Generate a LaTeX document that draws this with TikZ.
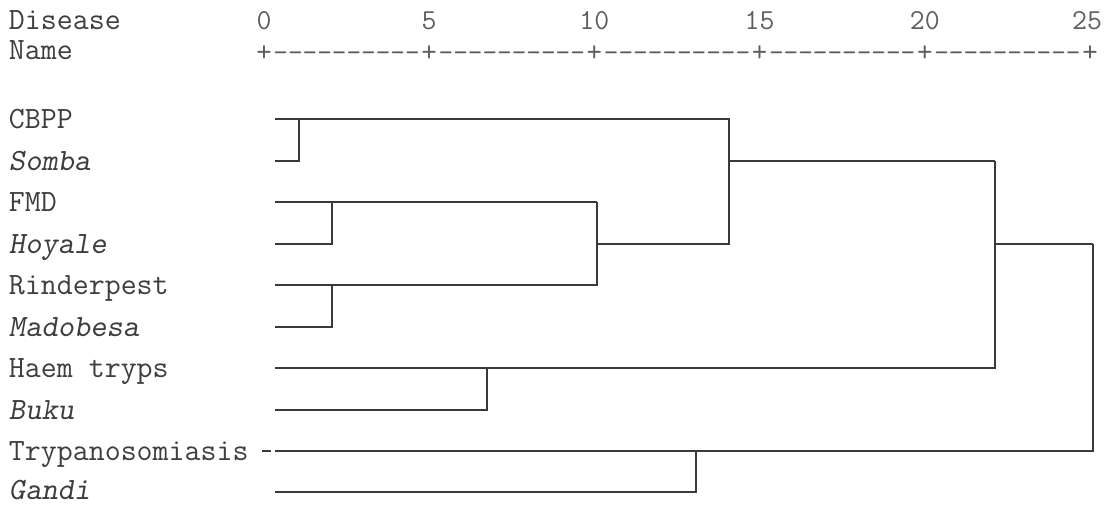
\documentclass[tikz,border=0pt]{standalone}
\usepackage{fontspec}
\definecolor{txtgray}{HTML}{3E3E3E}
\definecolor{axgray}{HTML}{5E5E5E}
\definecolor{linegray}{HTML}{3A3A3A}
\newcommand{\tendash}{-{}-{}-{}-{}-{}-{}-{}-{}-{}-}
\begin{document}
\begin{tikzpicture}[x=1pt,y=-1pt,
  every node/.style={inner sep=0pt,outer sep=0pt},
  lbl/.style={anchor=base west,font=\ttfamily\fontsize{31}{34}\selectfont,text=txtgray},
  ilbl/.style={lbl,font=\ttfamily\fontsize{31}{34}\selectfont\slshape},
  num/.style={anchor=base,font=\ttfamily\fontsize{29}{32}\selectfont,text=axgray},
  plus/.style={anchor=base,font=\ttfamily\fontsize{30}{32}\selectfont,text=axgray},
  dashes/.style={anchor=base,font=\ttfamily\fontsize{28.4}{32}\selectfont,text=axgray},
  link/.style={draw=linegray,line width=1.6pt,line join=miter}]
\useasboundingbox[fill=white] (0,0) rectangle (1110,504);

% header
\node[lbl] (hdis) at (9,29) {Disease};
\node[lbl] (hname) at (9,59) {Name};
\node[num] (n0)  at (264,29)    {0};
\node[num] (n5)  at (429.2,29)  {5};
\node[num] (n10) at (594.4,29)  {10};
\node[num] (n15) at (759.6,29)  {15};
\node[num] (n20) at (924.8,29)  {20};
\node[num] (n25) at (1087,29)   {25};
\node[plus] (p0)  at (264,61)   {+};
\node[plus] (p5)  at (429.2,61) {+};
\node[plus] (p10) at (594.4,61) {+};
\node[plus] (p15) at (759.6,61) {+};
\node[plus] (p20) at (924.8,61) {+};
\node[plus] (p25) at (1090,61)  {+};
\node[dashes] (d1) at (346.6,61) {\tendash};
\node[dashes] (d2) at (511.8,61) {\tendash};
\node[dashes] (d3) at (677,61)   {\tendash};
\node[dashes] (d4) at (842.2,61) {\tendash};
\node[dashes] (d5) at (1007.4,61) {\tendash};

% leaf labels
\node[lbl]  (lCBPP)   at (9,128) {CBPP};
\node[ilbl] (lSomba)  at (9,170) {Somba};
\node[lbl]  (lFMD)    at (9,211) {FMD};
\node[ilbl] (lHoyale) at (9,253) {Hoyale};
\node[lbl]  (lRind)   at (9,294) {Rinderpest};
\node[ilbl] (lMado)   at (9,336) {Madobesa};
\node[lbl]  (lHaem)   at (9,377) {Haem tryps};
\node[ilbl] (lBuku)   at (9,419) {Buku};
\node[lbl]  (lTryp)   at (9,460) {Trypanosomiasis};
\node[ilbl] (lGandi)  at (9,499) {Gandi};

% leaf line starts
\coordinate (sCBPP)   at (275,119);
\coordinate (sSomba)  at (275,161);
\coordinate (sFMD)    at (275,202);
\coordinate (sHoyale) at (275,244);
\coordinate (sRind)   at (275,285);
\coordinate (sMado)   at (275,327);
\coordinate (sHaem)   at (275,368);
\coordinate (sBuku)   at (275,410);
\coordinate (sTryp)   at (275,451);
\coordinate (sGandi)  at (275,492);
\coordinate (dA) at (262,451);
\coordinate (dB) at (271,451);

% joins
\coordinate (jA)    at (299,119);
\coordinate (jB)    at (332,202);
\coordinate (jC)    at (332,285);
\coordinate (tBC)   at (597,202);
\coordinate (mBC)   at (597,244);
\coordinate (tABC)  at (729,119);
\coordinate (bABC)  at (729,244);
\coordinate (mABC)  at (729,161);
\coordinate (jD)    at (487,368);
\coordinate (tABCD) at (995,161);
\coordinate (mABCD) at (995,244);
\coordinate (jE)    at (696,451);
\coordinate (tRoot) at (1093,244);

% dendrogram
\draw[link] (sSomba) -| (jA);
\draw[link] (sHoyale) -| (jB);
\draw[link] (sMado) -| (jC);
\draw[link] (sFMD) -- (tBC);
\draw[link] (sRind) -| (tBC);
\draw[link] (mBC) -- (bABC) -- (tABC) -- (sCBPP);
\draw[link] (mABC) -- (tABCD);
\draw[link] (sHaem) -| (tABCD);
\draw[link] (sBuku) -| (jD);
\draw[link] (mABCD) -- (tRoot);
\draw[link] (sTryp) -| (tRoot);
\draw[link] (sGandi) -| (jE);
\draw[link,line width=1.3pt] (dA) -- (dB);
\end{tikzpicture}
\end{document}
